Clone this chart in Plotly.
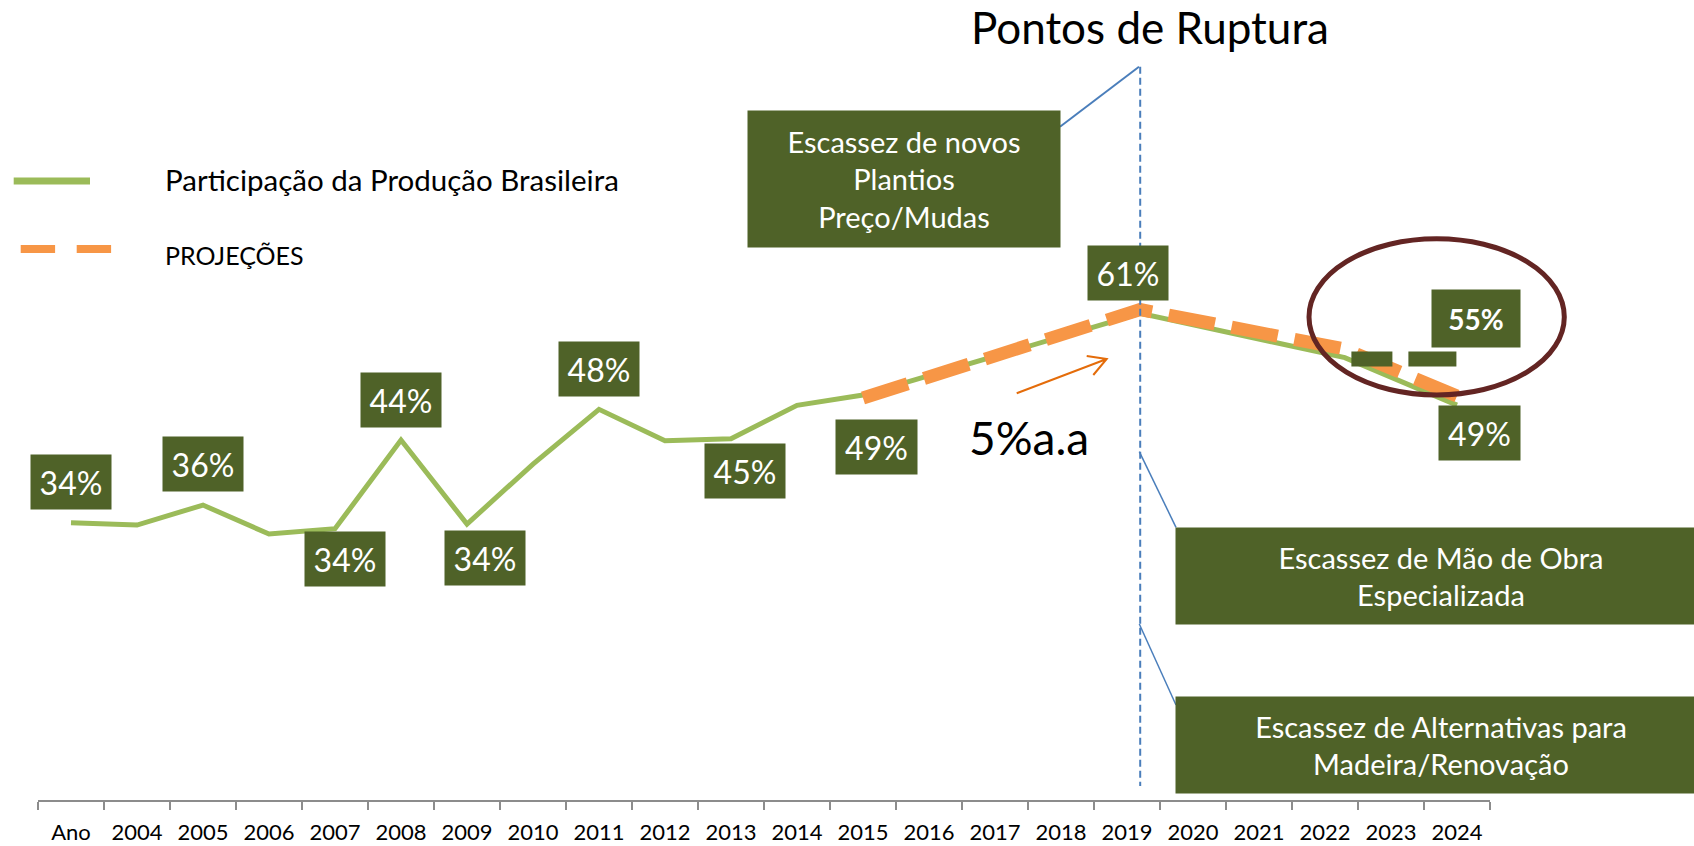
import plotly.graph_objects as go

# ---------------- data ----------------
categories = ["Ano", "2004", "2005", "2006", "2007", "2008", "2009", "2010", "2011",
              "2012", "2013", "2014", "2015", "2016", "2017", "2018", "2019", "2020",
              "2021", "2022", "2023", "2024"]
category_pos = [2003, 2004, 2005, 2006, 2007, 2008, 2009, 2010, 2011, 2012, 2013,
                2014, 2015, 2016, 2017, 2018, 2019, 2020, 2021, 2022, 2023, 2024]

# Participação da Produção Brasileira (historical + drawn trend)
hist_years = [2003, 2004, 2005, 2006, 2007, 2008, 2009, 2010, 2011, 2012, 2013, 2014, 2015]
hist_share = [34.16, 33.88, 36.32, 32.78, 33.43, 44.26, 34.0, 41.33, 48.01, 44.17, 44.42, 48.5, 49.75]
trend_years = [2019.2, 2022.3, 2024.0]
trend_share = [59.73, 54.33, 48.53]

# PROJEÇÕES
proj_years = [2015.0, 2019.2, 2022.3, 2024.0]
proj_share = [49.39, 60.2, 55.37, 49.63]

# flat 55% projection (dark green dashes)
flat_years = [2022.4, 2024.03]
flat_share = [54.17, 54.17]

# data labels
label_text = ["34%", "36%", "34%", "44%", "34%", "48%", "45%", "49%", "61%", "49%", "55%"]
label_years = [2003, 2005, 2007, 2008, 2009, 2011, 2013, 2015, 2019.2, 2024.0, 2024.03]

# ---------------- styling ----------------
GREEN = "#9bbb59"
ORANGE = "#f79646"
DARK = "#4f6228"
BLUE = "#4a7ebb"
MAROON = "#632523"
ARROW = "#e46c0a"
FONT = "Lato"

# label offsets (px) : xshift, yshift, bold, w, h
label_style = [
    (0, 41, False, 80, 54), (0, 41, False, 80, 54), (10, -30, False, 80, 54),
    (0, 40, False, 80, 54), (18, -34, False, 80, 54), (0, 40, False, 80, 54),
    (14, -32, False, 80, 54), (13, -52, False, 81, 54), (-12, 40, False, 80, 54),
    (22, -28, False, 81, 54), (17, 40, True, 88, 57),
]

# plot area in pixels: x 38..1490, y 0..800
L, R, T, B = 38, 204, 0, 46
W, H = 1694, 846
PW, PH = W - L - R, H - T - B


def px(X):
    return (X - L) / PW


def py(Y):
    return 1 - (Y - T) / PH


green_x = hist_years + trend_years
green_y = hist_share + trend_share
lookup = dict(zip(green_x, green_y))
lookup.update({flat_years[-1]: flat_share[-1]})

fig = go.Figure()
fig.add_trace(go.Scatter(x=green_x, y=green_y, mode="lines",
                         line=dict(color=GREEN, width=5), showlegend=False,
                         hoverinfo="skip"))
fig.add_trace(go.Scatter(x=proj_years, y=proj_share, mode="lines",
                         line=dict(color=ORANGE, width=13, dash="47px,17px"),
                         showlegend=False, hoverinfo="skip"))
fig.add_trace(go.Scatter(x=flat_years, y=flat_share, mode="lines",
                         line=dict(color=DARK, width=15, dash="41px,16px,48px,16px"),
                         showlegend=False, hoverinfo="skip"))

annotations = []
for txt, yr, (xs, ys, bold, w, h) in zip(label_text, label_years, label_style):
    annotations.append(dict(
        x=yr, y=lookup[yr], xref="x", yref="y", text=f"<b>{txt}</b>" if bold else txt,
        showarrow=False, xshift=xs, yshift=ys, width=w, height=h,
        bgcolor=DARK, borderpad=0, align="center", valign="middle",
        font=dict(family=FONT, size=28 if bold else 32, color="white")))


def box(cx, cy, w, h, text, size=29):
    annotations.append(dict(
        x=px(cx), y=py(cy), xref="paper", yref="paper", text=text, showarrow=False,
        xanchor="center", yanchor="middle", width=w, height=h, bgcolor=DARK,
        borderpad=0, align="center", valign="middle",
        font=dict(family=FONT, size=size, color="white")))


box(904.2, 178.9, 312, 136, "Escassez de novos<br>Plantios<br>Preço/Mudas")
box(1441, 576.3, 530, 96, "Escassez de Mão de Obra<br>Especializada")
box(1441, 744.5, 530, 96, "Escassez de Alternativas para<br>Madeira/Renovação")


def text(cx, cy, t, size, anchor="center", color="black"):
    annotations.append(dict(
        x=px(cx), y=py(cy), xref="paper", yref="paper", text=t, showarrow=False,
        xanchor=anchor, yanchor="middle", font=dict(family=FONT, size=size, color=color)))


text(1150, 27, "Pontos de Ruptura", 44)
text(1029, 437, "5%a.a", 46)
text(163, 180, "Participação da Produção Brasileira", 29.5, anchor="left")
text(163, 255, "PROJEÇÕES", 25, anchor="left")

shapes = []


def seg(x0, y0, x1, y1, color, width, dash="solid"):
    shapes.append(dict(type="line", xref="paper", yref="paper",
                       x0=px(x0), y0=py(y0), x1=px(x1), y1=py(y1),
                       line=dict(color=color, width=width, dash=dash), layer="above"))


# legend marks
seg(13.7, 181, 90, 181, GREEN, 7)
seg(20.7, 249, 55.1, 249, ORANGE, 8)
seg(76.7, 249, 111.1, 249, ORANGE, 8)

# vertical dashed rupture line at the peak
peak_year = trend_years[0]
shapes.append(dict(type="line", xref="x", yref="paper", x0=peak_year, x1=peak_year,
                   y0=py(66.7), y1=py(786), line=dict(color=BLUE, width=2, dash="7px,4px"),
                   layer="above"))

# callout lines
seg(1060, 126.7, 1139, 66.7, BLUE, 2)
seg(1139.3, 451.7, 1176, 527.3, BLUE, 1.5)
seg(1139.3, 624, 1176, 705, BLUE, 1.5)

# growth arrow
path = (f"M {px(1016.7)} {py(393.3)} L {px(1106.7)} {py(359)} "
        f"M {px(1086.7)} {py(356)} L {px(1106.7)} {py(359)} L {px(1093.3)} {py(375)}")
shapes.append(dict(type="path", xref="paper", yref="paper", path=path,
                   line=dict(color=ARROW, width=2), layer="above"))

# ellipse
shapes.append(dict(type="circle", xref="paper", yref="paper",
                   x0=px(1309), x1=px(1564.3), y0=py(238.8), y1=py(395),
                   line=dict(color=MAROON, width=5), layer="above"))

boundaries = [2002.5 + i for i in range(len(categories) + 1)]

fig.update_layout(
    width=W, height=H, margin=dict(l=L, r=R, t=T, b=B, autoexpand=False),
    paper_bgcolor="white", plot_bgcolor="white",
    showlegend=False, annotations=annotations, shapes=shapes,
    xaxis=dict(range=[2002.5, 2024.5], tickmode="array", tickvals=category_pos,
               ticktext=categories, ticks="", showline=True, linecolor="#8c8c8c",
               linewidth=1.5, showgrid=False, zeroline=False,
               tickfont=dict(family=FONT, size=22, color="black"),
               ticklabelstandoff=12,
               minor=dict(ticks="outside", tickmode="array", tickvals=boundaries,
                          ticklen=8, tickwidth=1.5, tickcolor="#8c8c8c", showgrid=False)),
    yaxis=dict(range=[0.3, 98], visible=False),
)

fig.write_html("out.html", config={"displayModeBar": False},
               post_script="document.body.style.margin='0';document.body.style.overflow='hidden';")
